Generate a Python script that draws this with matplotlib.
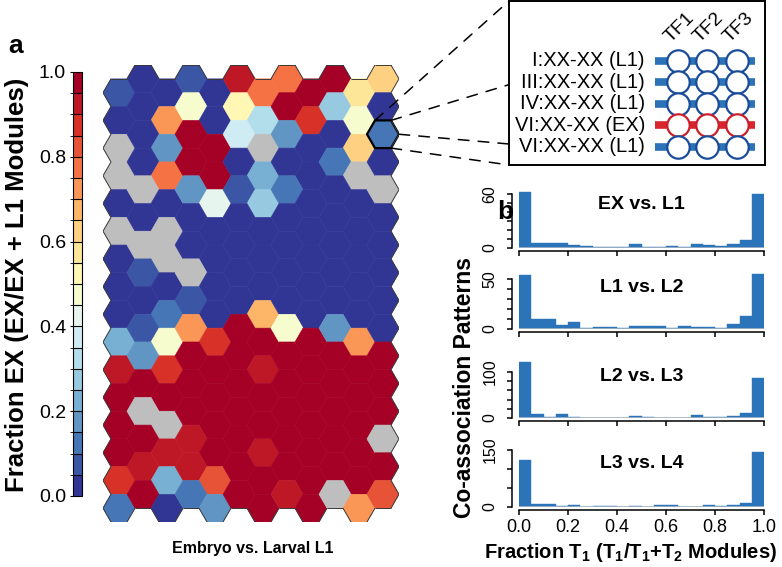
import numpy as np
import matplotlib
matplotlib.use('Agg')
import matplotlib.pyplot as plt
from matplotlib.colors import ListedColormap, BoundaryNorm
from matplotlib.collections import PolyCollection, LineCollection
from matplotlib.patches import ConnectionPatch
from matplotlib.cm import ScalarMappable
from matplotlib.ticker import FormatStrFormatter

plt.rcParams['font.family'] = ['Liberation Sans', 'DejaVu Sans']
plt.rcParams['mathtext.fontset'] = 'custom'
plt.rcParams['mathtext.rm'] = 'Liberation Sans'
plt.rcParams['mathtext.bf'] = 'Liberation Sans:bold'

# =============================================================================
# Data
# =============================================================================

# SOM nodes: fraction EX per node, 16 rows (top to bottom) x 12 columns.
# None = node without modules (drawn gray)
NA = None
som_values = [
    [0.07, 0.02, 0.02, 0.07, 0.02, 0.92, 0.77, 0.77, 0.97, 0.97, 0.57, 0.62],
    [0.02, 0.02, 0.72, 0.47, 0.02, 0.52, 0.32, 0.97, 0.87, 0.27, 0.47, 0.02],
    [NA,   0.02, 0.17, 0.97, 0.97, 0.37, NA,   0.17, 0.02, 0.02, 0.62, 0.12],
    [NA,   0.02, 0.77, 0.97, 0.97, 0.02, 0.22, 0.02, 0.02, 0.12, NA,   0.02],
    [0.02, NA,   0.02, 0.17, 0.42, 0.07, 0.27, 0.12, 0.02, 0.02, 0.02, NA],
    [NA,   0.02, NA,   0.02, 0.02, 0.02, 0.02, 0.02, 0.02, 0.02, 0.02, 0.02],
    [0.02, NA,   NA,   0.02, 0.02, 0.02, 0.02, 0.02, 0.02, 0.02, 0.02, 0.02],
    [0.02, 0.07, 0.02, NA,   0.02, 0.02, 0.02, 0.02, 0.02, 0.02, 0.02, 0.02],
    [0.02, 0.02, 0.12, 0.07, 0.02, 0.02, 0.67, 0.02, 0.02, 0.02, 0.02, 0.02],
    [0.22, 0.07, 0.47, 0.72, 0.87, 0.97, 0.97, 0.47, 0.97, 0.17, 0.72, 0.02],
    [0.92, 0.17, 0.87, 0.97, 0.97, 0.97, 0.92, 0.97, 0.97, 0.97, 0.97, 0.97],
    [0.97, 0.97, 0.97, 0.97, 0.97, 0.97, 0.97, 0.97, 0.97, 0.97, 0.97, 0.97],
    [0.97, NA,   NA,   0.97, 0.97, 0.97, 0.97, 0.97, 0.97, 0.97, 0.97, 0.97],
    [0.97, 0.97, 0.92, 0.92, 0.97, 0.97, 0.92, 0.97, 0.97, 0.97, 0.97, NA],
    [0.87, 0.92, 0.22, 0.92, 0.82, 0.97, 0.97, 0.97, 0.97, 0.97, 0.97, 0.97],
    [0.12, 0.97, 0.02, 0.12, 0.17, 0.97, 0.97, 0.92, 0.97, NA,   0.72, 0.82],
]
highlight_node = (2, 11)  # (row, column) of the outlined node

# modules mapped to the highlighted node
module_labels = ['I:XX-XX (L1)', 'III:XX-XX (L1)', 'IV:XX-XX (L1)',
                 'VI:XX-XX (EX)', 'VI:XX-XX (L1)']
module_stage = ['L1', 'L1', 'L1', 'EX', 'L1']
tf_names = ['TF1', 'TF2', 'TF3']

# histograms of co-association patterns, 20 bins of width 0.05 on [0, 1]
hist_titles = ['EX vs. L1', 'L1 vs. L2', 'L2 vs. L3', 'L3 vs. L4']
hist_counts = [
    [62, 6, 6, 6, 3, 2, 1, 1, 1, 4, 1, 1, 2, 1, 4, 3, 2, 4, 9, 60],
    [54, 10, 10, 4, 7, 1, 2, 2, 1, 3, 3, 3, 1, 3, 2, 2, 1, 5, 13, 55],
    [121, 9, 2, 9, 2, 1, 1, 1, 1, 5, 2, 1, 1, 1, 6, 3, 3, 5, 10, 87],
    [125, 9, 9, 2, 5, 1, 2, 2, 1, 3, 1, 5, 5, 1, 1, 5, 2, 6, 11, 146],
]
hist_yticks = [np.arange(0, 61, 10), np.arange(0, 51, 10),
               np.arange(0, 101, 20), np.arange(0, 151, 50)]
hist_ymax = [66.7, 57.3, 126, 158]

# =============================================================================
# Layout helpers (pixel boxes of the 782 x 567 figure)
# =============================================================================
W, H = 782, 567


def px_box(x0, y0, x1, y1):
    return [x0 / W, 1 - y1 / H, (x1 - x0) / W, (y1 - y0) / H]


fig = plt.figure(figsize=(W / 100, H / 100), dpi=100)

n_levels = 20
cmap = ListedColormap(plt.get_cmap('RdYlBu_r')(np.linspace(0, 1, n_levels)))
norm = BoundaryNorm(np.linspace(0, 1, n_levels + 1), n_levels)
na_color = '#BEBEBE'

# =============================================================================
# Panel a: hexagonal SOM map
# =============================================================================
n_rows, n_cols = len(som_values), len(som_values[0])
hh = np.sqrt(3)
ang = np.deg2rad(np.arange(0, 360, 60))


def hex_center(r, c):
    return 1.5 * c, (n_rows - 1 - r) * hh + (hh / 2 if c % 2 else 0)


polys, faces = [], []
edge_count = {}
for r in range(n_rows):
    for c in range(n_cols):
        cx, cy = hex_center(r, c)
        pts = np.column_stack([cx + np.cos(ang), cy + np.sin(ang)])
        polys.append(pts)
        v = som_values[r][c]
        faces.append(na_color if v is None else cmap(norm(v)))
        for k in range(6):
            a, b = pts[k], pts[(k + 1) % 6]
            key = tuple(sorted([tuple(np.round(a, 3)), tuple(np.round(b, 3))]))
            edge_count[key] = edge_count.get(key, 0) + 1

ax_hex = fig.add_axes(px_box(103, 65, 399, 522))
ax_hex.add_collection(PolyCollection(polys, facecolors=faces, edgecolors=faces,
                                     linewidths=0.4))
outer = [list(k) for k, n in edge_count.items() if n == 1]
ax_hex.add_collection(LineCollection(outer, colors='#3a3a3a', linewidths=0.7))

hr, hc = highlight_node
hx, hy = hex_center(hr, hc)
hl = np.column_stack([hx + np.cos(ang), hy + np.sin(ang)])
ax_hex.add_patch(plt.Polygon(hl, closed=True, fill=False, ec='black', lw=1.6))
ax_hex.set_xlim(-1, 1.5 * (n_cols - 1) + 1)
ax_hex.set_ylim(-hh / 2, (n_rows - 1) * hh + hh)
ax_hex.axis('off')

# colour bar
cax = fig.add_axes(px_box(73, 72, 82, 496))
cb = fig.colorbar(ScalarMappable(norm=norm, cmap=cmap), cax=cax,
                  ticks=np.arange(0, 1.01, 0.2), drawedges=True)
cb.dividers.set_linewidth(0.8)
cb.outline.set_linewidth(0.8)
cax.yaxis.set_ticks_position('left')
cax.yaxis.set_major_formatter(FormatStrFormatter('%.1f'))
cax.tick_params(labelsize=14, length=2, pad=3)

fig.text(17 / W, 1 - 285 / H, 'Fraction EX (EX/EX + L1 Modules)', rotation=90,
         ha='center', va='center', fontsize=18.5, fontweight='bold')
fig.text(253 / W, 1 - 549 / H, 'Embryo vs. Larval L1', ha='center',
         va='center', fontsize=11.5, fontweight='bold')
fig.text(8 / W, 1 - 46 / H, 'a', ha='left', va='center', fontsize=19,
         fontweight='bold')

# =============================================================================
# Inset: modules in the highlighted node
# =============================================================================
stage_bar = {'L1': '#2B72B8', 'EX': '#D9262C'}
stage_edge = {'L1': '#1A4C9A', 'EX': '#CC1F2C'}

ax_in = fig.add_axes(px_box(509, 1, 765, 165))
ax_in.set_xlim(-5.73, 2.95)
ax_in.set_ylim(4.84, -2.79)
for j, (lab, st) in enumerate(zip(module_labels, module_stage)):
    ax_in.plot([-0.78, 2.6], [j, j], color=stage_bar[st], lw=5.5,
               solid_capstyle='butt', zorder=1)
    ax_in.scatter(range(len(tf_names)), [j] * len(tf_names), s=260,
                  facecolor='white', edgecolor=stage_edge[st], linewidth=1.6,
                  zorder=2)
    ax_in.text(-1.12, j, lab, ha='right', va='center', fontsize=14.5)
for i, tf in enumerate(tf_names):
    ax_in.text(i - 0.17, -0.7, tf, rotation=45, rotation_mode='anchor',
               ha='left', va='bottom', fontsize=14)
ax_in.set_xticks([])
ax_in.set_yticks([])
for sp in ax_in.spines.values():
    sp.set_linewidth(1.4)

# dashed connectors from the outlined node to the inset box
hex_pts = [(hx - 0.5, hy + hh / 2), (hx + 0.5, hy + hh / 2), (hx + 1, hy),
           (hx + 0.5, hy - hh / 2)]
box_pts = [(0, 1), (0, 0.49), (0, 0.128), (0, 0)]
for a, b in zip(hex_pts, box_pts):
    con = ConnectionPatch(xyA=a, coordsA='data', axesA=ax_hex,
                          xyB=b, coordsB='axes fraction', axesB=ax_in,
                          color='black', lw=1.1, linestyle=(0, (7, 6)))
    fig.add_artist(con)

# =============================================================================
# Panel b: histograms
# =============================================================================
edges = np.linspace(0, 1, 21)
hist_px = [(188, 248), (272, 329), (360, 418), (447, 507)]
bar_color = '#2C74BA'

for k in range(4):
    top, base = hist_px[k]
    ax = fig.add_axes(px_box(519, top, 764, base))
    ax.bar(edges[:-1], hist_counts[k], width=0.05, align='edge',
           color=bar_color, edgecolor=bar_color, linewidth=0.3)
    ax.axhline(0, color='#A9B6C4', lw=1.2)
    ax.set_xlim(0, 1)
    ax.set_ylim(0, hist_ymax[k])
    for s in ['top', 'right']:
        ax.spines[s].set_visible(False)
    ax.spines['left'].set_position(('outward', 5))
    ax.spines['bottom'].set_position(('outward', 2))
    ax.spines['left'].set_bounds(0, hist_yticks[k][-1])
    ax.spines['bottom'].set_bounds(0, 1)
    ax.spines['left'].set_linewidth(1.1)
    ax.spines['bottom'].set_linewidth(1.1)
    yt = hist_yticks[k]
    ax.set_yticks(yt)
    ax.set_yticklabels([str(v) if v in (yt[0], yt[-1]) else '' for v in yt])
    ax.tick_params(axis='y', labelrotation=90, labelsize=11.5, length=3.5,
                   width=1.1, pad=7)
    ax.set_xticks(np.arange(0, 1.01, 0.2))
    ax.tick_params(axis='x', length=3.8, width=1.1, labelsize=13, pad=3)
    for t in ax.get_yticklabels():
        t.set_va('center')
    if k < 3:
        ax.set_xticklabels([])
    else:
        ax.xaxis.set_major_formatter(FormatStrFormatter('%.1f'))
    ax.text(0.5, 0.72, hist_titles[k], transform=ax.transAxes, ha='center',
            va='center', fontsize=14, fontweight='bold')

fig.text(465 / W, 1 - 388 / H, 'Co-association Patterns', rotation=90,
         ha='center', va='center', fontsize=16.5, fontweight='bold')
fig.text(631 / W, 1 - 553 / H,
         r'Fraction T$_\mathbf{1}$ (T$_\mathbf{1}$/T$_\mathbf{1}$+T$_\mathbf{2}$ Modules)',
         ha='center', va='center', fontsize=14.5, fontweight='bold')
fig.text(497 / W, 1 - 212 / H, 'b', ha='left', va='center', fontsize=19,
         fontweight='bold')

fig.savefig('out.png', dpi=100)
